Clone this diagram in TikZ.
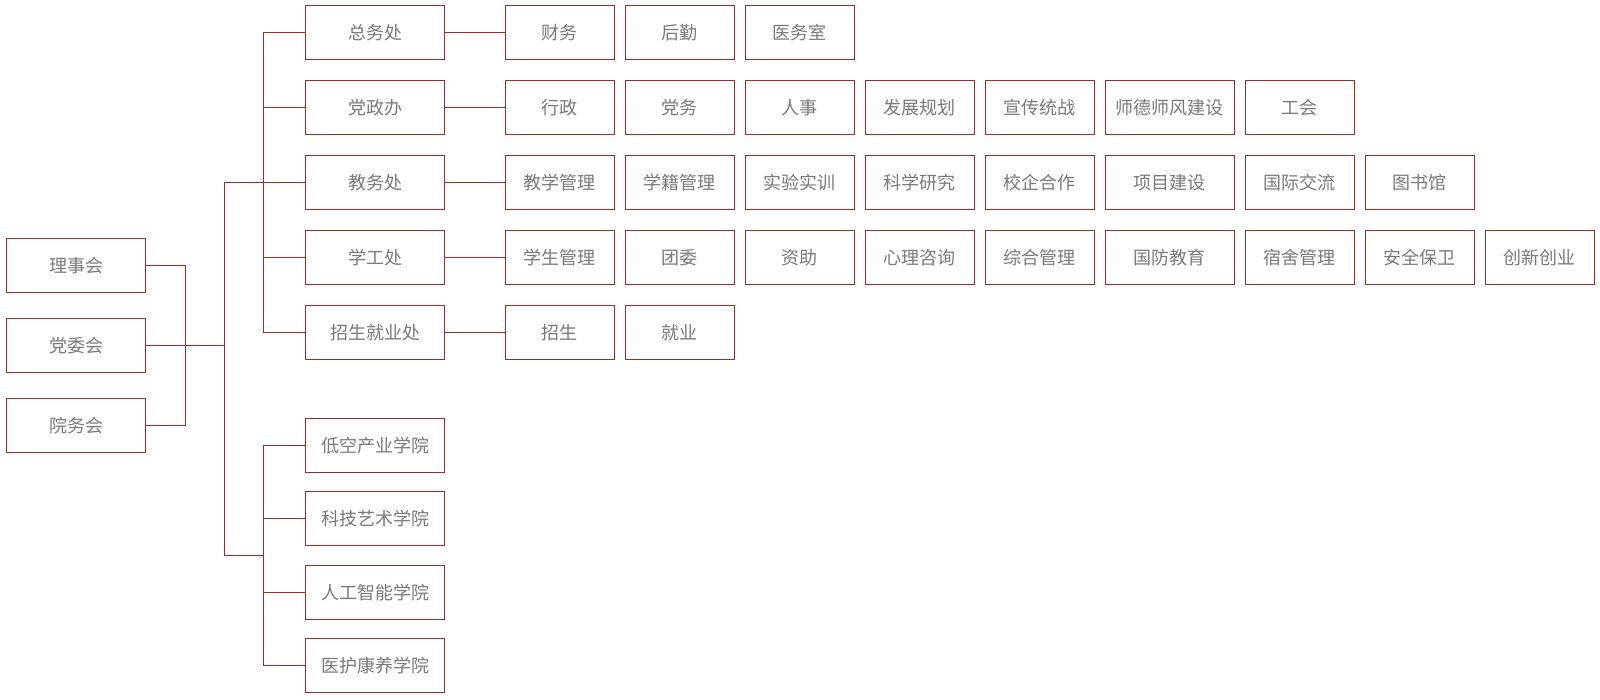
\documentclass[tikz,border=0pt]{standalone}
\usepackage{fontspec}
\newfontfamily\cjk{Noto Sans CJK SC}
\definecolor{lc}{HTML}{A02A2C}
\definecolor{tc}{HTML}{7A7A7A}
\tikzset{
  box/.style={draw=lc, line width=1.3pt, minimum height=54pt, inner sep=0pt, outer sep=0pt,
    text=tc, font=\cjk\fontsize{18}{18}\selectfont, fill=white},
  wbox/.style={box, minimum width=139.4pt},
  cbox/.style={box, minimum width=109pt},
  cwbox/.style={box, minimum width=129pt},
  conn/.style={draw=lc, line width=1.3pt}
}
\begin{document}
\begin{tikzpicture}[x=1pt,y=-1pt]
\useasboundingbox (0,0) rectangle (1600,700);
% left
\node[wbox] (lsh) at (76,265.3) {理事会};
\node[wbox] (dwh) at (76,345.3) {党委会};
\node[wbox] (ywh) at (76,425.3) {院务会};
% level 2 upper
\node[wbox] (zwc) at (375,32.3) {总务处};
\node[wbox] (dzb) at (375,107.3) {党政办};
\node[wbox] (jwc) at (375,182.3) {教务处};
\node[wbox] (xgc) at (375,257.3) {学工处};
\node[wbox] (zsc) at (375,332.3) {招生就业处};
% colleges
\node[wbox] (c1) at (375,445.3) {低空产业学院};
\node[wbox] (c2) at (375,518.3) {科技艺术学院};
\node[wbox] (c3) at (375,592.3) {人工智能学院};
\node[wbox] (c4) at (375,665.3) {医护康养学院};
% row 1
\node[cbox] (a1) at (559.8,32.3) {财务};
\node[cbox] (a2) at (679.8,32.3) {后勤};
\node[cbox] (a3) at (799.8,32.3) {医务室};
% row 2
\node[cbox] (b1) at (559.8,107.3) {行政};
\node[cbox] (b2) at (679.8,107.3) {党务};
\node[cbox] (b3) at (799.8,107.3) {人事};
\node[cbox] (b4) at (919.8,107.3) {发展规划};
\node[cbox] (b5) at (1039.8,107.3) {宣传统战};
\node[cwbox] (b6) at (1169.8,107.3) {师德师风建设};
\node[cbox] (b7) at (1299.8,107.3) {工会};
% row 3
\node[cbox] (d1) at (559.8,182.3) {教学管理};
\node[cbox] (d2) at (679.8,182.3) {学籍管理};
\node[cbox] (d3) at (799.8,182.3) {实验实训};
\node[cbox] (d4) at (919.8,182.3) {科学研究};
\node[cbox] (d5) at (1039.8,182.3) {校企合作};
\node[cwbox] (d6) at (1169.8,182.3) {项目建设};
\node[cbox] (d7) at (1299.8,182.3) {国际交流};
\node[cbox] (d8) at (1419.8,182.3) {图书馆};
% row 4
\node[cbox] (e1) at (559.8,257.3) {学生管理};
\node[cbox] (e2) at (679.8,257.3) {团委};
\node[cbox] (e3) at (799.8,257.3) {资助};
\node[cbox] (e4) at (919.8,257.3) {心理咨询};
\node[cbox] (e5) at (1039.8,257.3) {综合管理};
\node[cwbox] (e6) at (1169.8,257.3) {国防教育};
\node[cbox] (e7) at (1299.8,257.3) {宿舍管理};
\node[cbox] (e8) at (1419.8,257.3) {安全保卫};
\node[cbox] (e9) at (1539.8,257.3) {创新创业};
% row 5
\node[cbox] (f1) at (559.8,332.3) {招生};
\node[cbox] (f2) at (679.8,332.3) {就业};
% junctions
\coordinate (jl) at (185.3,345.3);
\coordinate (jm) at (224.3,345.3);
\coordinate (jtop) at (224.3,182.3);
\coordinate (jbot) at (224.3,555.3);
\coordinate (ju) at (263.3,182.3);
\coordinate (jc) at (263.3,555.3);
% left connectors
\draw[conn] (lsh.east) -| (jl) |- (ywh.east);
\draw[conn] (dwh.east) -- (jm);
\draw[conn] (jtop) -- (jbot);
\draw[conn] (jtop) -- (jwc.west);
\draw[conn] (jbot) -- (jc);
% upper branch
\draw[conn] (zwc.west) -| (ju) |- (zsc.west);
\draw[conn] (dzb.west) -- (dzb.west -| ju);
\draw[conn] (xgc.west) -- (xgc.west -| ju);
% college branch
\draw[conn] (c1.west) -| (jc) |- (c4.west);
\draw[conn] (c2.west) -- (c2.west -| jc);
\draw[conn] (c3.west) -- (c3.west -| jc);
% level2 to children
\draw[conn] (zwc.east) -- (a1.west);
\draw[conn] (dzb.east) -- (b1.west);
\draw[conn] (jwc.east) -- (d1.west);
\draw[conn] (xgc.east) -- (e1.west);
\draw[conn] (zsc.east) -- (f1.west);
\end{tikzpicture}
\end{document}
